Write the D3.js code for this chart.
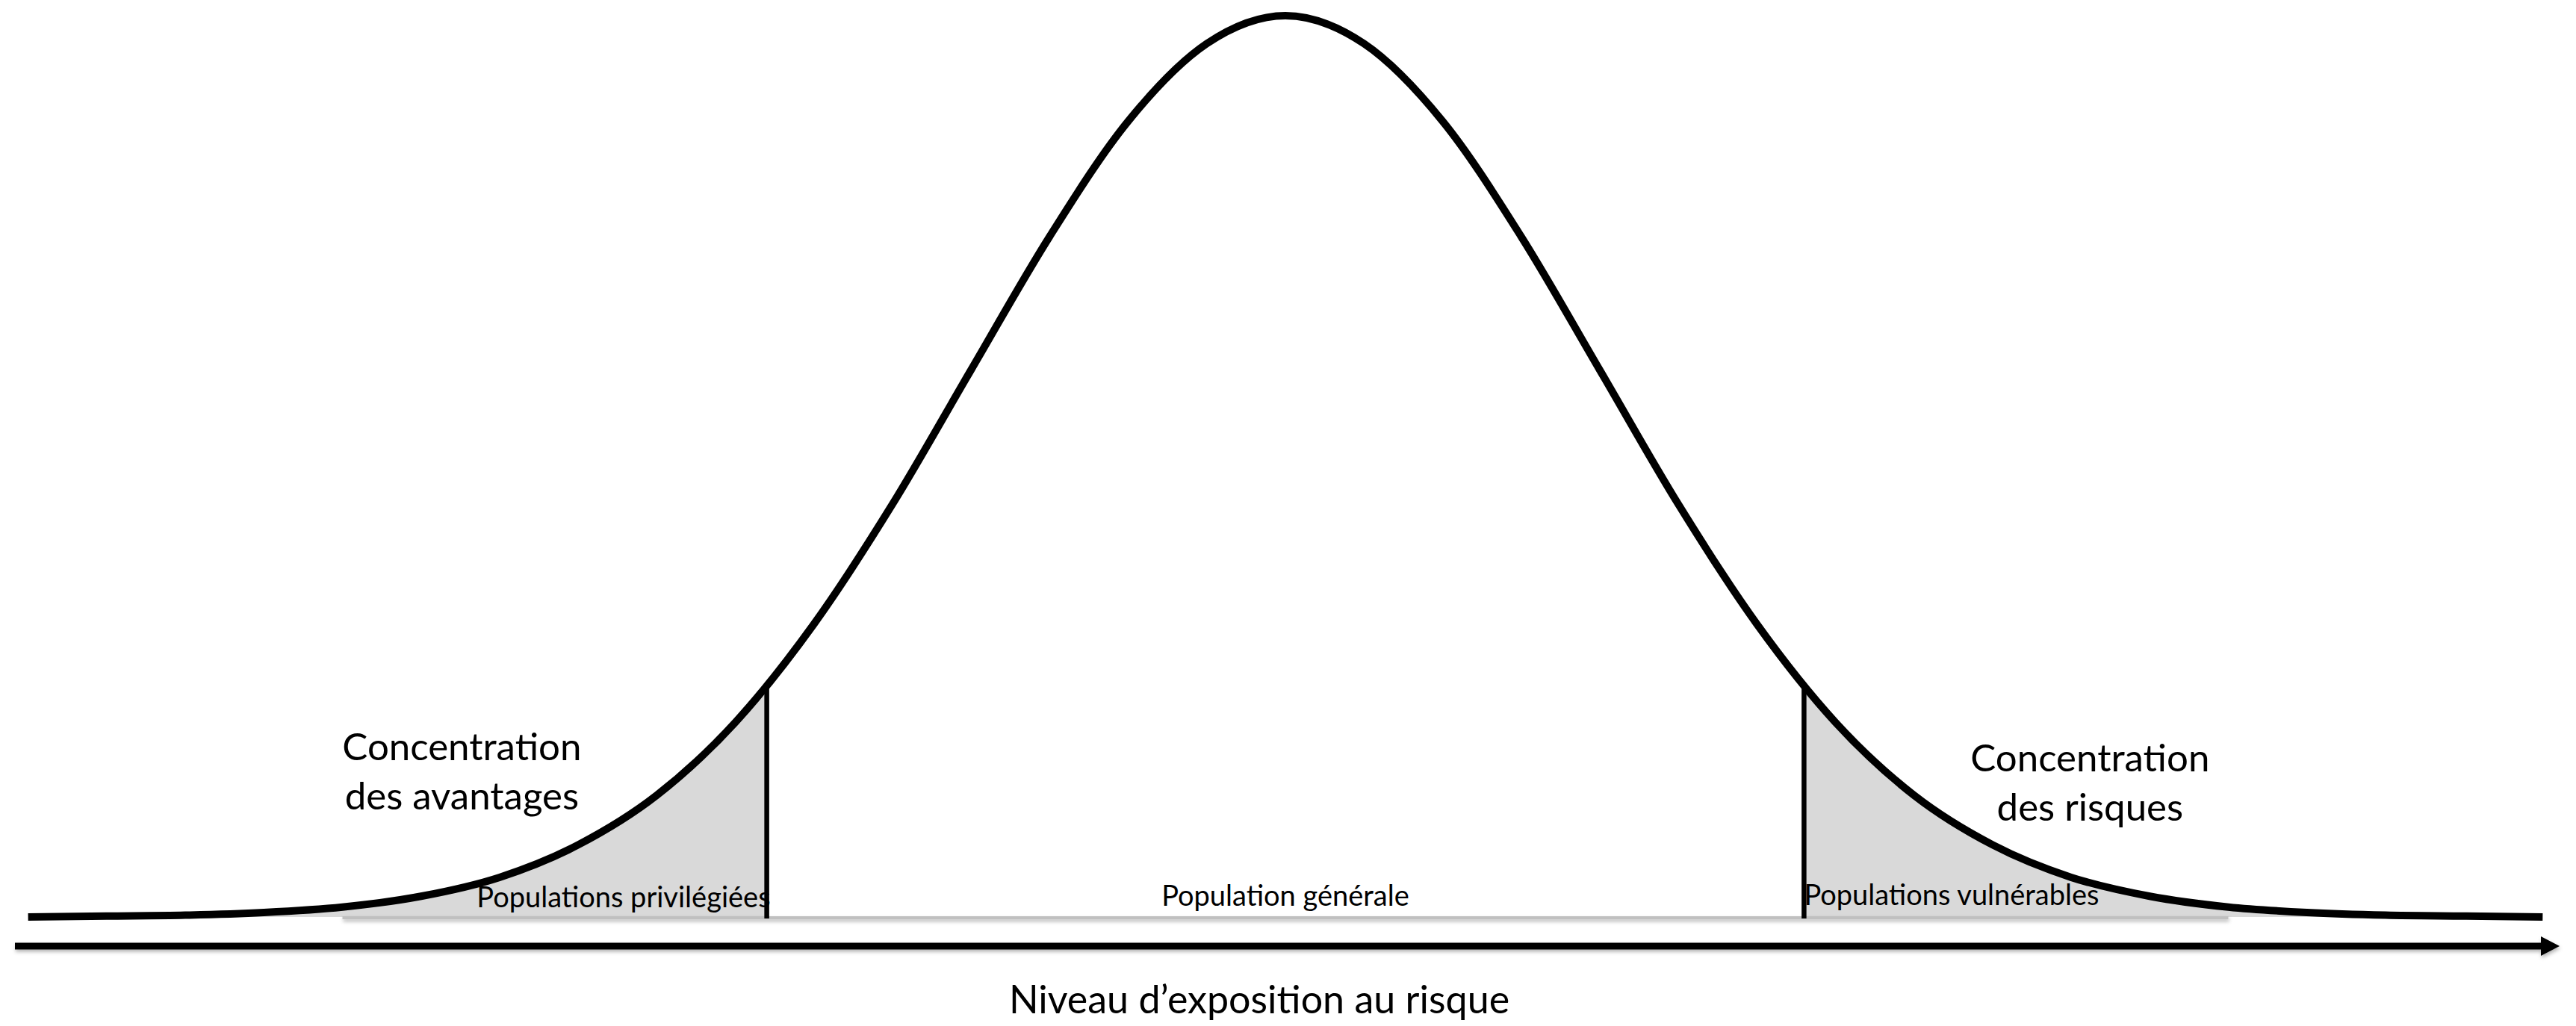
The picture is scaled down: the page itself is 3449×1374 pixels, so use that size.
<!DOCTYPE html>
<html>
<head>
<meta charset="utf-8">
<script src="https://cdn.jsdelivr.net/npm/d3@7"></script>
<style>
    html, body { margin: 0; padding: 0; background: #fff; }
    svg { display: block; }
    .bell-text { font-family: Lato, "Open Sans", sans-serif; fill: #000; }
</style>
</head>
<body>
<div id="chart"></div>
<script>
// Exposure level, in standard deviations from the mean
const exposure = [-4, -3.75, -3.5, -3.25, -3, -2.75, -2.5, -2.25, -2, -1.75, -1.5, -1.25, -1, -0.75, -0.5, -0.25,
    0, 0.25, 0.5, 0.75, 1, 1.25, 1.5, 1.75, 2, 2.25, 2.5, 2.75, 3, 3.25, 3.5, 3.75, 4];
// Relative share of the population (peak = 1)
const population = [0.000, 0.001, 0.002, 0.005, 0.011, 0.023, 0.044, 0.080, 0.135, 0.216, 0.325, 0.458, 0.607, 0.755, 0.883, 0.969,
    1.000, 0.969, 0.883, 0.755, 0.607, 0.458, 0.325, 0.216, 0.135, 0.080, 0.044, 0.023, 0.011, 0.005, 0.002, 0.001, 0.000];

const cutoffs = [-1.65, 1.65];
const cutoffHeights = [0.256, 0.256];
const groupLabels = ['Populations privilégiées', 'Population générale', 'Populations vulnérables'];
const sideLabels = [['Concentration', 'des avantages'], ['Concentration', 'des risques']];
const sidePositions = [-2.62, 2.56];
const axisLabel = 'Niveau d’exposition au risque';

class BellChart {
    constructor(selector, options = {}) {
        this.selector = selector;
        this.options = {
            width: options.width || 3449,
            height: options.height || 1374,
            ...options
        };
        this.init();
    }

    init() {
        const { width, height } = this.options;
        this.svg = d3.select(this.selector).append('svg')
            .attr('width', width)
            .attr('height', height);

        this.x = d3.scaleLinear().domain([-4.03, 4.03]).range([25, 3417]);
        this.y = d3.scaleLinear().domain([0, 1]).range([1228, 21]);

        this.data = exposure.map((e, i) => ({ e, p: population[i] }));

        const defs = this.svg.append('defs');
        // user space region (horizontal lines have a zero-height bbox),
        // made large enough to also cover translated groups
        defs.append('filter')
            .attr('id', 'shadow')
            .attr('filterUnits', 'userSpaceOnUse')
            .attr('x', -width).attr('y', -2 * height)
            .attr('width', 3 * width).attr('height', 4 * height)
            .append('feDropShadow')
            .attr('dx', 1).attr('dy', 3).attr('stdDeviation', 2.5)
            .attr('flood-color', '#000').attr('flood-opacity', 0.3);

        defs.append('marker')
            .attr('id', 'arrow')
            .attr('markerUnits', 'userSpaceOnUse')
            .attr('markerWidth', 25).attr('markerHeight', 26)
            .attr('refX', 10).attr('refY', 13)
            .attr('orient', 'auto')
            .append('path')
            .attr('d', 'M0,0L25,13L0,26Z')
            .attr('fill', '#000');

        // one clip per shaded tail
        defs.append('clipPath').attr('id', 'tail-left')
            .append('rect')
            .attr('x', 0).attr('y', 0)
            .attr('width', this.x(cutoffs[0])).attr('height', height);
        defs.append('clipPath').attr('id', 'tail-right')
            .append('rect')
            .attr('x', this.x(cutoffs[1])).attr('y', 0)
            .attr('width', width).attr('height', height);

        this.render();
    }

    render() {
        const x = this.x, y = this.y;

        const area = d3.area()
            .x(d => x(d.e))
            .y0(y(0))
            .y1(d => y(d.p))
            .curve(d3.curveMonotoneX);

        ['tail-left', 'tail-right'].forEach(id => {
            this.svg.append('path')
                .datum(this.data)
                .attr('clip-path', `url(#${id})`)
                .attr('fill', '#d9d9d9')
                .attr('d', area);
        });

        // gray ground line
        this.svg.append('line')
            .attr('x1', x(-3)).attr('x2', x(3))
            .attr('y1', y(0) + 1).attr('y2', y(0) + 1)
            .attr('stroke', '#c0c0c0')
            .attr('stroke-width', 4)
            .attr('filter', 'url(#shadow)');

        // cutoff lines
        this.svg.append('g')
            .selectAll('line')
            .data(cutoffs)
            .join('line')
            .attr('x1', d => x(d)).attr('x2', d => x(d))
            .attr('y1', y(0) + 2)
            .attr('y2', (d, i) => y(cutoffHeights[i]))
            .attr('stroke', '#000')
            .attr('stroke-width', 6.5);

        // the bell
        const line = d3.line()
            .x(d => x(d.e))
            .y(d => y(d.p))
            .curve(d3.curveMonotoneX);

        this.svg.append('path')
            .datum(this.data)
            .attr('fill', 'none')
            .attr('stroke', '#000')
            .attr('stroke-width', 10)
            .attr('d', line);

        // x axis as a bare arrow; domain redrawn as a single segment so the marker points right
        const axis = this.svg.append('g')
            .attr('transform', 'translate(-5,1267)')
            .call(d3.axisBottom(x).tickValues([]).tickSizeOuter(0));
        const [r0, r1] = x.range();
        axis.select('.domain')
            .attr('d', `M${r0},0H${r1}`)
            .attr('stroke', '#000')
            .attr('stroke-width', 9)
            .attr('marker-end', 'url(#arrow)')
            .attr('filter', 'url(#shadow)');

        // group labels under the curve
        const small = 38;
        this.svg.append('text')
            .attr('class', 'bell-text')
            .attr('x', x(cutoffs[0]) + 5).attr('y', 1215)
            .attr('text-anchor', 'end')
            .style('font-size', small + 'px')
            .text(groupLabels[0]);
        this.svg.append('text')
            .attr('class', 'bell-text')
            .attr('x', x(0)).attr('y', 1213)
            .attr('text-anchor', 'middle')
            .style('font-size', small + 'px')
            .text(groupLabels[1]);
        this.svg.append('text')
            .attr('class', 'bell-text')
            .attr('x', x(cutoffs[1])).attr('y', 1212)
            .attr('text-anchor', 'start')
            .style('font-size', small + 'px')
            .text(groupLabels[2]);

        // side annotations
        const sideBaselines = [1018, 1033];
        sideLabels.forEach((lines, i) => {
            const t = this.svg.append('text')
                .attr('class', 'bell-text')
                .attr('text-anchor', 'middle')
                .style('font-size', '51px');
            lines.forEach((s, j) => {
                t.append('tspan')
                    .attr('x', x(sidePositions[i]))
                    .attr('y', sideBaselines[i] + j * 66)
                    .text(s);
            });
        });

        this.svg.append('text')
            .attr('class', 'bell-text')
            .attr('x', 1686).attr('y', 1357)
            .attr('text-anchor', 'middle')
            .style('font-size', '52px')
            .text(axisLabel);
    }
}

new BellChart('#chart');
</script>
</body>
</html>
